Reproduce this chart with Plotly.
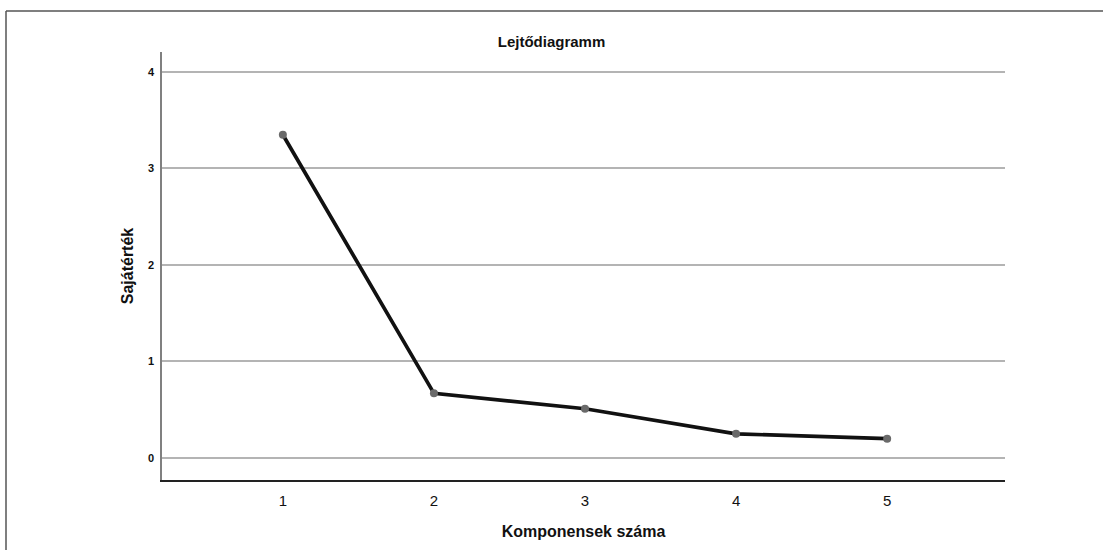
import plotly.graph_objects as go

components = [1, 2, 3, 4, 5]
eigenvalues = [3.35, 0.67, 0.51, 0.25, 0.20]
y_ticks = [0, 1, 2, 3, 4]

fig = go.Figure()
fig.add_trace(go.Scatter(
    x=components, y=eigenvalues, mode="lines+markers",
    line=dict(color="#111111", width=3.7),
    marker=dict(color="#6a6a6a", size=8),
    showlegend=False, cliponaxis=False,
))

L, R, T, B = 162, 98, 52, 70
W, H = 1103, 550
pw = W - L - R
ph = H - T - B

def px_x(p):
    return (p - L) / pw

def px_y(p):
    return (H - B - p) / ph

fig.update_layout(
    width=W, height=H,
    margin=dict(l=L, r=R, t=T, b=B, autoexpand=False),
    paper_bgcolor="white", plot_bgcolor="white",
    font=dict(family="Liberation Sans, Arial, sans-serif", color="#111111"),
    title=dict(text="<b>Lejtődiagramm</b>", x=px_x(583.5), xanchor="center",
               y=1 - 42 / H, yanchor="middle", font=dict(size=15)),
    xaxis=dict(
        range=[0.2, 5.78], tickvals=components, ticktext=[str(c) for c in components],
        showgrid=False, zeroline=False, showline=True, linecolor="#222222", linewidth=1.5,
        ticks="", tickfont=dict(size=15), ticklabelstandoff=6,
        title=dict(text="<b>Komponensek száma</b>", font=dict(size=16), standoff=18),
    ),
    yaxis=dict(
        range=[-0.228, 4.207], tickvals=y_ticks, ticktext=[f"<b>{v}</b>" for v in y_ticks],
        showgrid=True, gridcolor="#b4b4b4", gridwidth=1.5, zeroline=False,
        showline=True, linecolor="#808080", linewidth=1.5,
        ticks="", tickfont=dict(size=11), ticklabelstandoff=4,
        title=dict(text="<b>Sajátérték</b>", font=dict(size=16), standoff=10),
    ),
)

# outer frame (left and top edges)
fig.add_shape(type="line", xref="paper", yref="paper",
              x0=px_x(6), x1=px_x(6), y0=px_y(11), y1=px_y(552),
              line=dict(color="#555555", width=1.5))
fig.add_shape(type="line", xref="paper", yref="paper",
              x0=px_x(6), x1=px_x(1105), y0=px_y(11), y1=px_y(11),
              line=dict(color="#555555", width=1.5))

fig.write_html("out.html", config={"displayModeBar": False},
               post_script="document.body.style.margin='0';document.body.style.overflow='hidden';")
